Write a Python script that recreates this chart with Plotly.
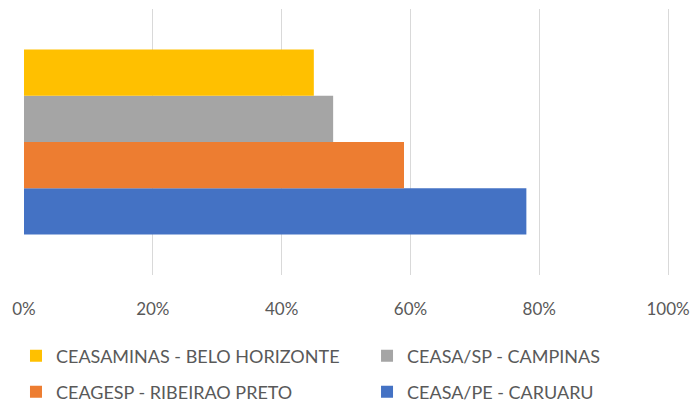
import plotly.graph_objects as go

series_names = ["CEASA/PE - CARUARU", "CEAGESP - RIBEIRAO PRETO", "CEASA/SP - CAMPINAS", "CEASAMINAS - BELO HORIZONTE"]
values = [0.78, 0.59, 0.48, 0.45]
colors = ["#4472C4", "#ED7D31", "#A5A5A5", "#FFC000"]
legend_ids = ["legend4", "legend3", "legend2", "legend"]
category = [""]
tick_vals = [0, 0.2, 0.4, 0.6, 0.8, 1.0]
tick_text = ["0%", "20%", "40%", "60%", "80%", "100%"]

fig = go.Figure()
for name, v, c, lg in zip(series_names, values, colors, legend_ids):
    fig.add_trace(go.Bar(
        y=category, x=[v], name=name, orientation="h",
        marker=dict(color=c, line=dict(width=0)),
        legend=lg,
    ))

leg_font = dict(size=18, color="#595959", family="Lato, Open Sans, sans-serif")
col1_x, col2_x = -0.0124, 0.531
row1_y, row2_y = -0.3045, -0.4398

def leg(x, y):
    return dict(x=x, y=y, xanchor="left", yanchor="middle", orientation="h",
                font=leg_font, bgcolor="rgba(0,0,0,0)")

fig.update_layout(
    width=697, height=402,
    margin=dict(l=24, r=27, t=9, b=127, autoexpand=False),
    paper_bgcolor="white", plot_bgcolor="white",
    barmode="group", bargap=0.305, bargroupgap=0,
    font=dict(family="Lato, Open Sans, sans-serif", color="#595959"),
    xaxis=dict(range=[0, 1.003], tickvals=tick_vals, ticktext=tick_text,
               showgrid=True, gridcolor="#D9D9D9", gridwidth=1,
               zeroline=False, showline=False, ticks="", automargin=False,
               ticklabelstandoff=22,
               tickfont=dict(size=17, color="#595959"), fixedrange=True),
    yaxis=dict(showticklabels=False, showgrid=False, zeroline=False, showline=False,
               ticks="", automargin=False, fixedrange=True),
    legend=leg(col1_x, row1_y),
    legend2=leg(col2_x, row1_y),
    legend3=leg(col1_x, row2_y),
    legend4=leg(col2_x, row2_y),
    showlegend=True,
)

fig.write_html("out.html", config={"displayModeBar": False},
               post_script="document.body.style.margin='0';document.body.style.overflow='hidden';")
